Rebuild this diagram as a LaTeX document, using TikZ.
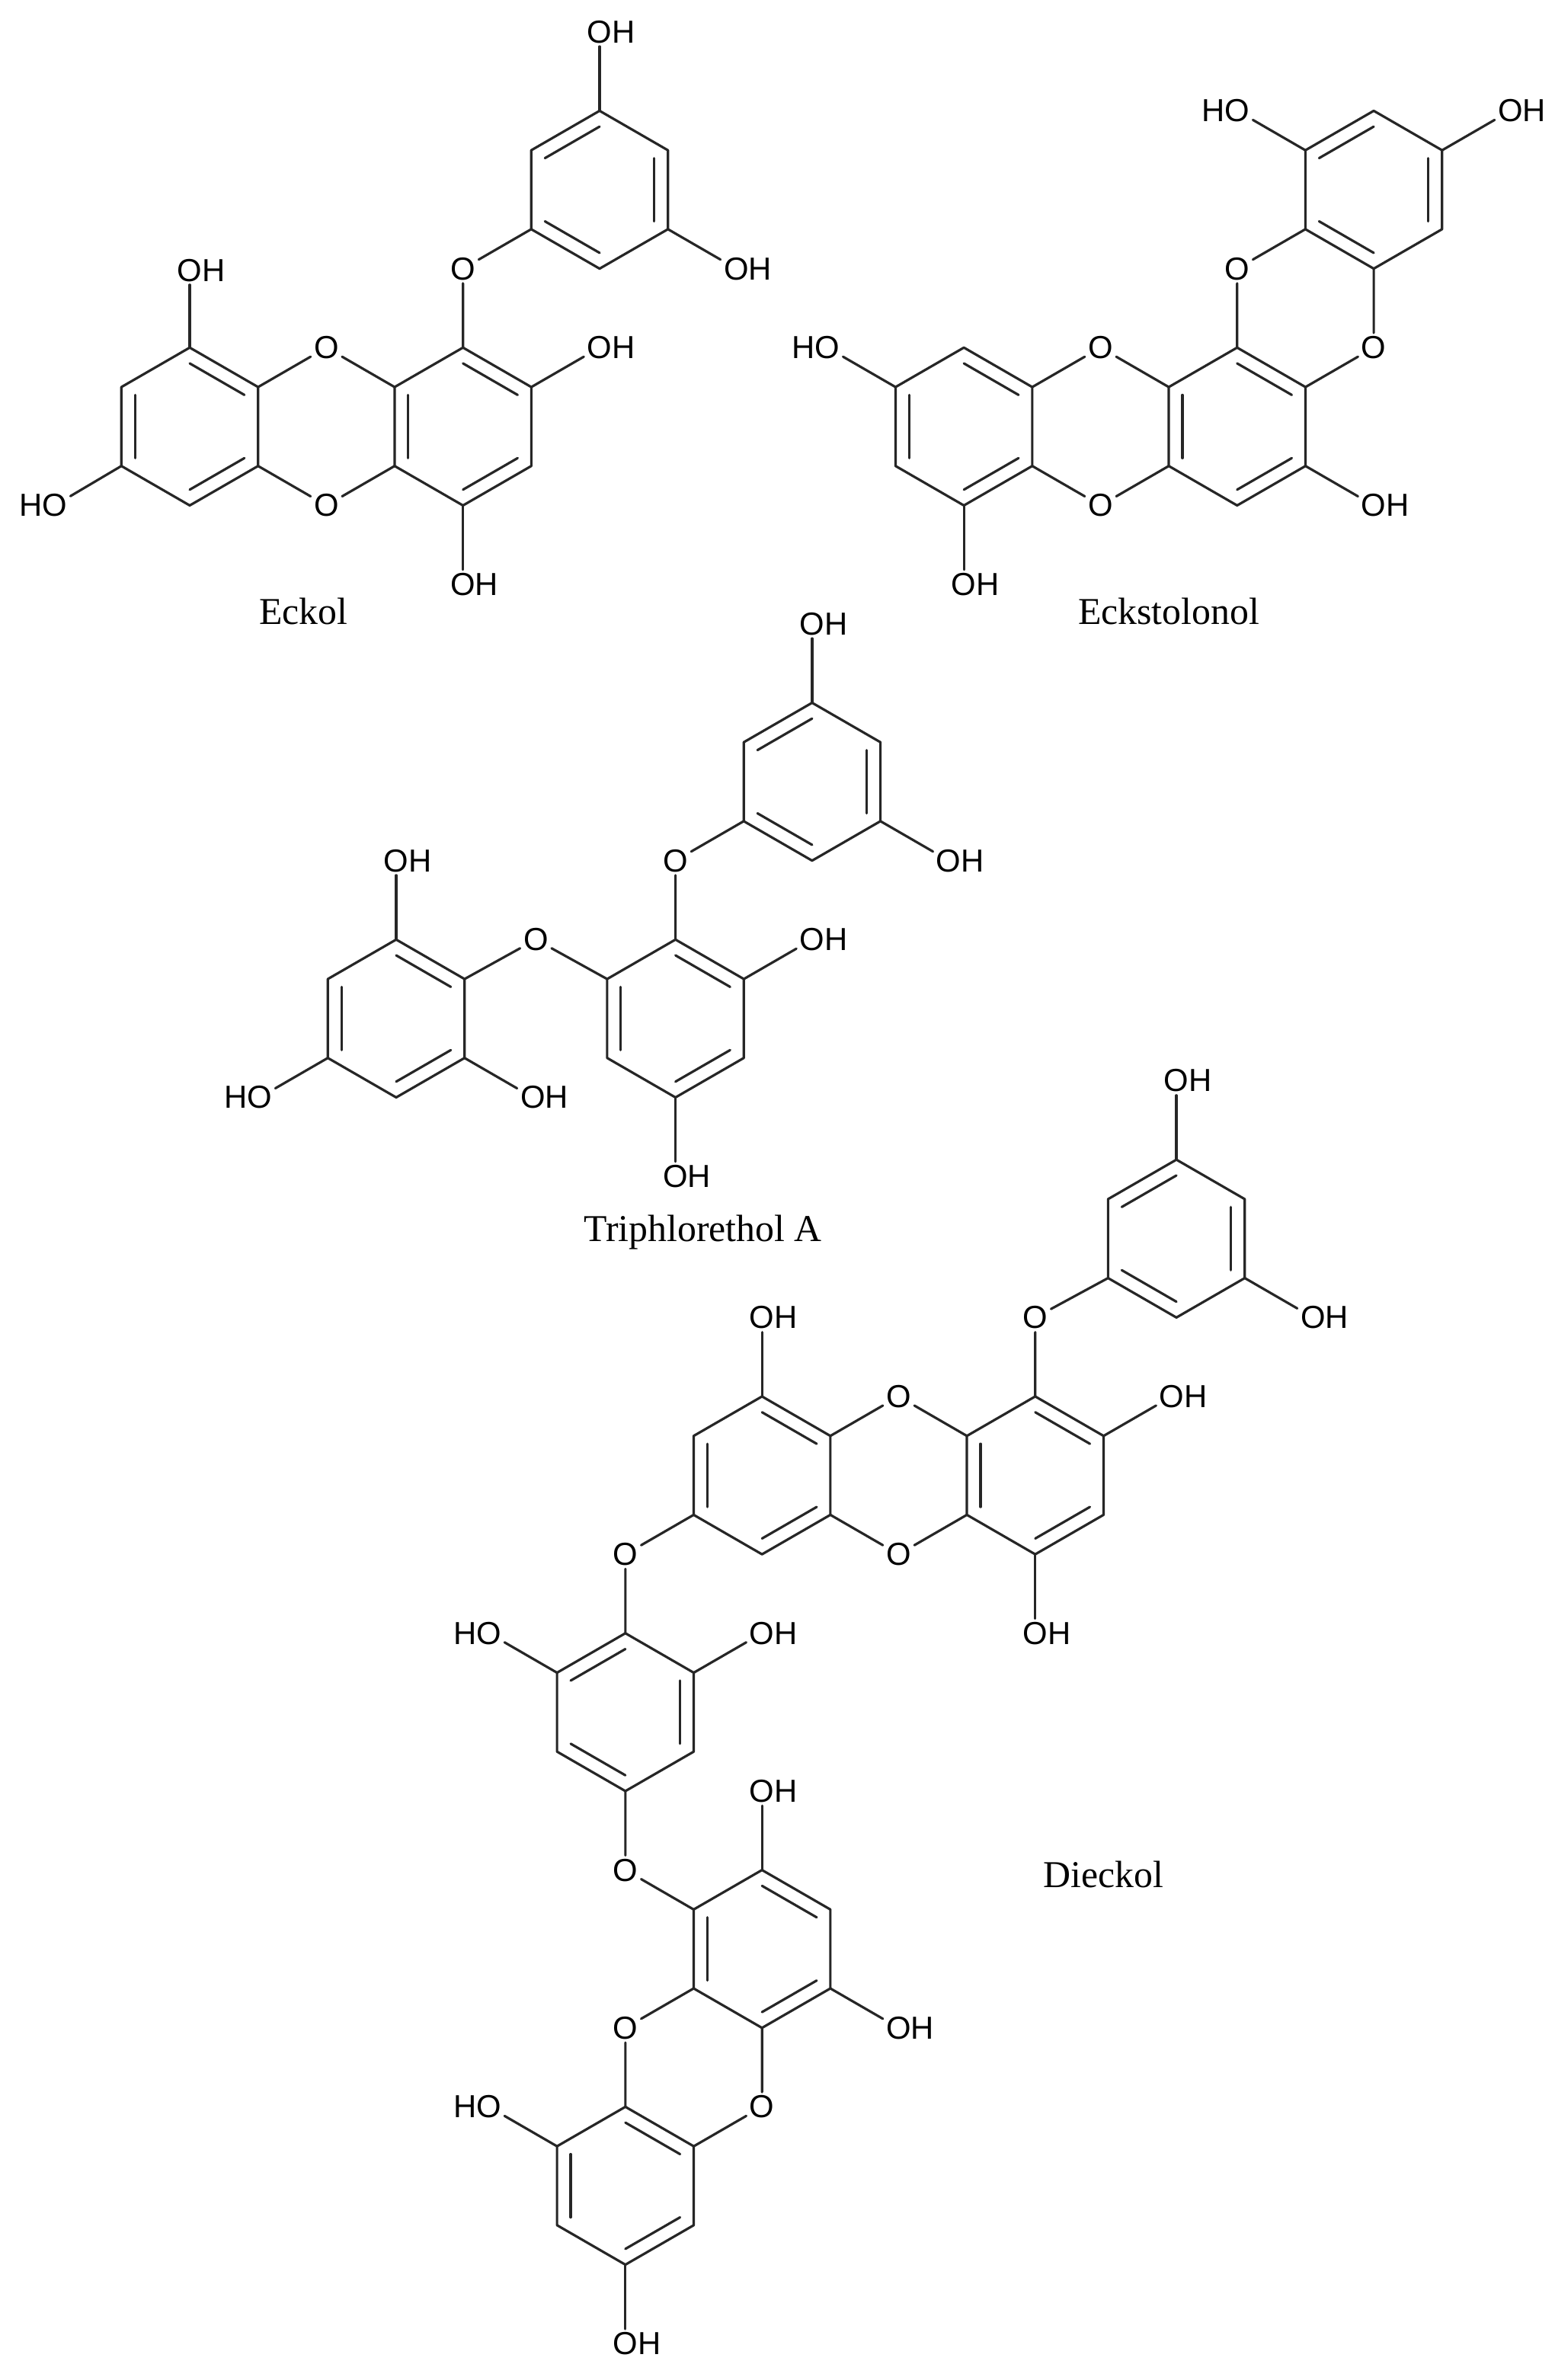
\documentclass[tikz,border=0pt]{standalone}
\usepackage{fontspec}
\setmainfont{Liberation Serif}
\newfontfamily\lsans{Liberation Sans}
\usetikzlibrary{calc}
\tikzset{
  bond/.style={line width=1.6pt,line cap=round,line join=round,black!85},
  atom/.style={font=\lsans\fontsize{21}{24}\selectfont,inner sep=2pt},
  cname/.style={font=\fontsize{25}{28}\selectfont,inner sep=0pt}
}
\newcommand\hexring[3]{%
  \coordinate (#1c) at (#2,#3);
  \coordinate (#11) at (#2,#3-52);
  \coordinate (#12) at (#2+45.03,#3-26);
  \coordinate (#13) at (#2+45.03,#3+26);
  \coordinate (#14) at (#2,#3+52);
  \coordinate (#15) at (#2-45.03,#3+26);
  \coordinate (#16) at (#2-45.03,#3-26);
  \draw[bond] (#11)--(#12)--(#13)--(#14)--(#15)--(#16)--cycle;}
\newcommand\dbl[3]{\draw[bond] ($(#3)!0.8!(#1)$) -- ($(#3)!0.8!(#2)$);}
\newcommand\ringA[1]{\dbl{#11}{#12}{#1c}\dbl{#13}{#14}{#1c}\dbl{#15}{#16}{#1c}}
\newcommand\ringB[1]{\dbl{#16}{#11}{#1c}\dbl{#12}{#13}{#1c}\dbl{#14}{#15}{#1c}}
\newcommand\OHr{O\rlap{H}}
\newcommand\HOl{\llap{H}O}
\begin{document}
\begin{tikzpicture}[x=1pt,y=-1pt]
\useasboundingbox[fill=white] (0,0) rectangle (1024,1568);
% ===== Eckol =====
\hexring{ea}{125}{281}\ringA{ea}
\hexring{eb}{305}{281}\ringA{eb}
\hexring{ep}{395}{125}\ringB{ep}
\node[atom] (eo1) at (215,229) {O};
\node[atom] (eo2) at (215,333) {O};
\node[atom] (eo3) at (305,177) {O};
\draw[bond] (ea2)--(eo1)--(eb6);
\draw[bond] (ea3)--(eo2)--(eb5);
\draw[bond] (eb1)--(eo3)--(ep5);
\node[atom] (eh1) at (125,178) {\OHr};
\node[atom] (eh2) at (36,333) {\HOl};
\node[atom] (eh3) at (395,229) {\OHr};
\node[atom] (eh4) at (305,385) {\OHr};
\node[atom] (eh5) at (395,21) {\OHr};
\node[atom] (eh6) at (485,177) {\OHr};
\draw[bond] (ea1)--(eh1); \draw[bond] (ea5)--(eh2); \draw[bond] (eb2)--(eh3);
\draw[bond] (eb4)--(eh4); \draw[bond] (ep1)--(eh5); \draw[bond] (ep3)--(eh6);
\node[cname] (eckol) at (200,403) {Eckol};
% ===== Eckstolonol =====
\hexring{ka}{635}{281}\ringA{ka}
\hexring{kb}{815}{281}\ringA{kb}
\hexring{kp}{905}{125}\ringB{kp}
\node[atom] (ko1) at (725,229) {O};
\node[atom] (ko2) at (725,333) {O};
\node[atom] (ko3) at (815,177) {O};
\node[atom] (ko4) at (905,229) {O};
\draw[bond] (ka2)--(ko1)--(kb6);
\draw[bond] (ka3)--(ko2)--(kb5);
\draw[bond] (kb1)--(ko3)--(kp5);
\draw[bond] (kb2)--(ko4)--(kp4);
\node[atom] (kh1) at (545,229) {\HOl};
\node[atom] (kh2) at (635,385) {\OHr};
\node[atom] (kh3) at (905,333) {\OHr};
\node[atom] (kh4) at (815,73) {\HOl};
\node[atom] (kh5) at (995,73) {\OHr};
\draw[bond] (ka6)--(kh1); \draw[bond] (ka4)--(kh2); \draw[bond] (kb3)--(kh3);
\draw[bond] (kp6)--(kh4); \draw[bond] (kp2)--(kh5);
\node[cname] (ecks) at (770,403) {Eckstolonol};
% ===== Triphlorethol A =====
\hexring{tl}{261}{671}\ringA{tl}
\hexring{tc}{445}{671}\ringA{tc}
\hexring{tp}{535}{515}\ringB{tp}
\node[atom] (to1) at (445,567) {O};
\node[atom] (to2) at (353,619) {O};
\draw[bond] (tc1)--(to1)--(tp5);
\draw[bond] (tl2)--(to2)--(tc6);
\node[atom] (th1) at (261,567) {\OHr};
\node[atom] (th2) at (351,723) {\OHr};
\node[atom] (th3) at (171,723) {\HOl};
\node[atom] (th4) at (535,619) {\OHr};
\node[atom] (th5) at (445,775) {\OHr};
\node[atom] (th6) at (535,411) {\OHr};
\node[atom] (th7) at (625,567) {\OHr};
\draw[bond] (tl1)--(th1); \draw[bond] (tl3)--(th2); \draw[bond] (tl5)--(th3);
\draw[bond] (tc2)--(th4); \draw[bond] (tc4)--(th5); \draw[bond] (tp1)--(th6);
\draw[bond] (tp3)--(th7);
\node[cname] (triph) at (463,812) {Triphlorethol A};
% ===== Dieckol =====
\hexring{dp}{775}{816}\ringB{dp}
\hexring{dr}{682}{972}\ringA{dr}
\hexring{dl}{502}{972}\ringA{dl}
\hexring{dm}{412}{1128}\ringB{dm}
\hexring{dn}{502}{1284}\ringA{dn}
\hexring{dq}{412}{1440}\ringA{dq}
\node[atom] (do1) at (682,868) {O};
\node[atom] (do2) at (592,920) {O};
\node[atom] (do3) at (592,1024) {O};
\node[atom] (do4) at (412,1024) {O};
\node[atom] (do5) at (412,1232) {O};
\node[atom] (do6) at (412,1336) {O};
\node[atom] (do7) at (502,1388) {O};
\draw[bond] (dr1)--(do1)--(dp5);
\draw[bond] (dl2)--(do2)--(dr6);
\draw[bond] (dl3)--(do3)--(dr5);
\draw[bond] (dl5)--(do4)--(dm1);
\draw[bond] (dm4)--(do5)--(dn6);
\draw[bond] (dn5)--(do6)--(dq1);
\draw[bond] (dn4)--(do7)--(dq2);
\node[atom] (dh1) at (775,712) {\OHr};
\node[atom] (dh2) at (865,868) {\OHr};
\node[atom] (dh3) at (502,868) {\OHr};
\node[atom] (dh4) at (772,920) {\OHr};
\node[atom] (dh5) at (682,1076) {\OHr};
\node[atom] (dh6) at (322,1076) {\HOl};
\node[atom] (dh7) at (502,1076) {\OHr};
\node[atom] (dh8) at (502,1180) {\OHr};
\node[atom] (dh9) at (592,1336) {\OHr};
\node[atom] (dh10) at (322,1388) {\HOl};
\node[atom] (dh11) at (412,1544) {\OHr};
\draw[bond] (dp1)--(dh1); \draw[bond] (dp3)--(dh2); \draw[bond] (dl1)--(dh3);
\draw[bond] (dr2)--(dh4); \draw[bond] (dr4)--(dh5); \draw[bond] (dm6)--(dh6);
\draw[bond] (dm2)--(dh7); \draw[bond] (dn1)--(dh8); \draw[bond] (dn3)--(dh9);
\draw[bond] (dq6)--(dh10); \draw[bond] (dq4)--(dh11);
\node[cname] (dieckol) at (727,1235) {Dieckol};
\end{tikzpicture}
\end{document}
